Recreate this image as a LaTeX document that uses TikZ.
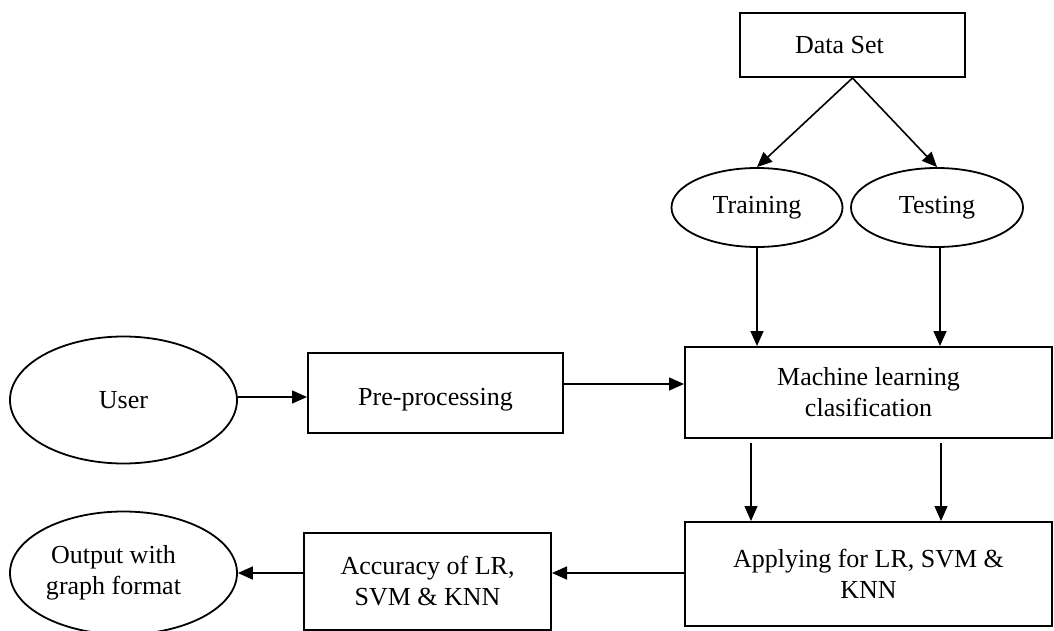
\documentclass[tikz,border=0pt]{standalone}
\usepackage{fontspec}
\setmainfont{Liberation Serif}
\usetikzlibrary{shapes.geometric,arrows.meta,calc}
\begin{document}
\begin{tikzpicture}[x=1pt,y=-1pt,
  every node/.style={font=\fontsize{26}{31}\selectfont, align=center, inner sep=0pt},
  boxnode/.style={draw, line width=2pt, rectangle},
  ellnode/.style={draw, line width=1.8pt, ellipse},
  conn/.style={line width=1.6pt, -{Triangle[length=15pt,width=13pt]}},
  thinconn/.style={line width=1.2pt, -{Triangle[length=15pt,width=13pt]}}]
\useasboundingbox (0,0) rectangle (1054,631);
\node[boxnode, minimum width=225pt, minimum height=64pt] (ds) at (852.5,45) {Data Set\hspace*{26pt}};
\node[ellnode, minimum width=171pt, minimum height=79pt] (train) at (757,207.5) {Training};
\node[ellnode, minimum width=172pt, minimum height=79pt] (test) at (937,207.5) {Testing};
\node[boxnode, minimum width=367pt, minimum height=91pt] (ml) at (868.5,392.5) {Machine learning\\clasification};
\node[boxnode, minimum width=255pt, minimum height=80pt, text height=28pt, text depth=4pt] (pre) at (435.5,393) {Pre-processing};
\node[ellnode, minimum width=227pt, minimum height=127pt] (user) at (123.5,400) {User};
\node[boxnode, minimum width=367pt, minimum height=104pt] (app) at (868.5,574) {Applying for LR, SVM \&\\KNN};
\node[boxnode, minimum width=247pt, minimum height=97pt] (acc) at (427.5,581.5) {Accuracy of LR,\\SVM \& KNN};
\node[ellnode, minimum width=227pt, minimum height=123pt] (out) at (123.5,573) {Output with\hspace*{20pt}\\graph format\hspace*{20pt}};
\draw[conn] (ds.south) -- (train.north);
\draw[conn] (ds.south) -- (test.north);
\draw[conn] (train.south) -- (train.south |- ml.north);
\draw[conn] ([xshift=3pt]test.south) -- ([xshift=3pt]test.south |- ml.north);
\draw[conn] (user.east |- 0,397) -- (pre.west |- 0,397);
\draw[conn] ([yshift=9pt]pre.east) -- ([yshift=9pt]pre.east -| ml.west);
\coordinate (m1) at ($(ml.south west)+(67,4)$);
\coordinate (m2) at ($(ml.south west)+(257,4)$);
\draw[thinconn] (m1) -- (m1 |- app.north);
\draw[thinconn] (m2) -- (m2 |- app.north);
\draw[conn] (app.west |- 0,573) -- (acc.east |- 0,573);
\draw[conn] (acc.west |- out.east) -- (out.east);
\end{tikzpicture}
\end{document}
